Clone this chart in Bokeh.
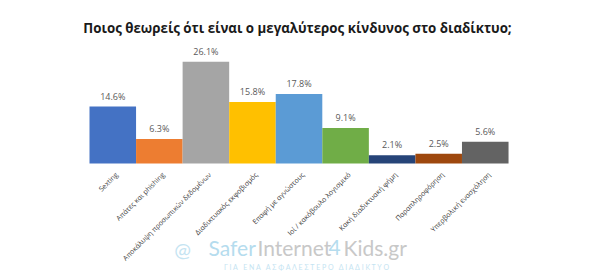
import math
from bokeh.plotting import figure
from bokeh.models import ColumnDataSource, Range1d
from bokeh.core.properties import value
from bokeh.embed import file_html
from bokeh.resources import INLINE

categories = ["Sexting", "Απάτες και phishing", "Αποκάλυψη προσωπικών δεδομένων",
              "Διαδικτυακός εκφοβισμός", "Επαφή με αγνώστους", "Ιοί / κακόβουλο λογισμικό",
              "Κακή διαδικτυακή φήμη", "Παραπληροφόρηση", "Υπερβολική ενασχόληση"]
values = [14.6, 6.3, 26.1, 15.8, 17.8, 9.1, 2.1, 2.5, 5.6]
labels = ["14.6%", "6.3%", "26.1%", "15.8%", "17.8%", "9.1%", "2.1%", "2.5%", "5.6%"]
colors = ["#4472C4", "#ED7D31", "#A5A5A5", "#FFC000", "#5B9BD5",
          "#70AD47", "#264478", "#9E480E", "#636363"]
title_text = "Ποιος θεωρείς ότι είναι ο μεγαλύτερος κίνδυνος στο διαδίκτυο;"

W, H = 600, 279
PX_X = 46.56   # pixels per category
PX_Y = 3.9     # pixels per percent
LEFT = 89      # pixel of first bar's left edge
BASE = 163     # pixel of baseline from top

xs = -LEFT / PX_X
xe = xs + W / PX_X
yt = BASE / PX_Y
yb = yt - H / PX_Y

def dx(px):
    return xs + px / PX_X

def dy(py):
    return yt - py / PX_Y

p = figure(width=W, height=H, output_backend="svg", toolbar_location=None,
           x_range=Range1d(xs, xe), y_range=Range1d(yb, yt),
           min_border=0, min_border_left=0, min_border_right=0,
           min_border_top=0, min_border_bottom=0)
p.axis.visible = False
p.grid.visible = False
p.outline_line_color = None
p.background_fill_color = "white"
p.border_fill_color = "white"

src = ColumnDataSource(dict(x=[i + 0.5 for i in range(len(values))], top=values,
                            color=colors, label=labels, cat=categories))
p.vbar(x="x", top="top", bottom=0, width=1.0, fill_color="color", line_color=None, source=src)

p.text(x="x", y="top", text="label", source=src, text_align="center", text_baseline="bottom",
       y_offset=-4, text_font_size="9px", text_color="#595959", text_font=value("Open Sans"))

p.text(x="x", y=0, text="cat", source=src, text_align="right", text_baseline="middle",
       angle=math.pi / 4, x_offset=4, y_offset=10, text_font_size="7px",
       text_color="#404040", text_font=value("Open Sans"))

# title
p.text(x=[dx(297)], y=[dy(27)], text=[title_text], text_align="center", text_baseline="middle",
       text_font_size="13.3px", text_font_style="bold", text_color="#1a1a1a",
       text_font=value("Open Sans"))

# watermark
wm = [("Safer", 208, "#b5dcee"), ("Internet", 257, "#c8c8c8"), ("4", 328, "#b5dcee"), ("Kids.gr", 343, "#c8c8c8")]
for t, px, c in wm:
    p.text(x=[dx(px)], y=[dy(247)], text=[t], text_align="left", text_baseline="middle",
           text_font_size="21px", text_color=c, text_font=value("Lato"))
p.text(x=[dx(182)], y=[dy(248)], text=["@"], text_align="center", text_baseline="middle",
       text_font_size="20px", text_color="#c5e4f2", text_font=value("Lato"))
sub = "\u00a0\u00a0\u00a0".join(" ".join(w) for w in ["ΓΙΑ", "ΕΝΑ", "ΑΣΦΑΛΕΣΤΕΡΟ", "ΔΙΑΔΙΚΤΥΟ"])
p.text(x=[dx(307)], y=[dy(266)], text=[sub],
       text_align="center", text_baseline="middle", text_font_size="7px",
       text_color="#c5e4f2", text_font=value("Lato"))

open("out.html", "w").write(file_html(p, INLINE))
